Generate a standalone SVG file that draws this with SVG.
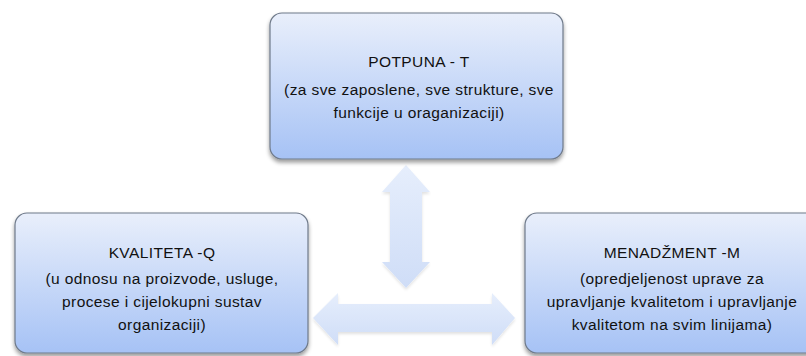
<svg xmlns="http://www.w3.org/2000/svg" width="806" height="356" viewBox="0 0 806 356">
  <defs>
    <linearGradient id="boxGrad" x1="0" y1="0" x2="0" y2="1">
      <stop offset="0" stop-color="#e9effb"/>
      <stop offset="1" stop-color="#a6c2f5"/>
    </linearGradient>
    <linearGradient id="arrGrad" x1="0" y1="0" x2="0" y2="1">
      <stop offset="0" stop-color="#e6eefc"/>
      <stop offset="1" stop-color="#cfddf7"/>
    </linearGradient>
    <filter id="shadow" x="-10%" y="-10%" width="120%" height="130%">
      <feGaussianBlur in="SourceAlpha" stdDeviation="2"/>
      <feOffset dx="0" dy="3" result="b"/>
      <feComponentTransfer><feFuncA type="linear" slope="0.4"/></feComponentTransfer>
      <feMerge><feMergeNode/><feMergeNode in="SourceGraphic"/></feMerge>
    </filter>
    <filter id="ashadow" x="-20%" y="-20%" width="140%" height="140%">
      <feGaussianBlur in="SourceAlpha" stdDeviation="1.5"/>
      <feOffset dx="0" dy="2" result="b"/>
      <feComponentTransfer><feFuncA type="linear" slope="0.12"/></feComponentTransfer>
      <feMerge><feMergeNode/><feMergeNode in="SourceGraphic"/></feMerge>
    </filter>
  </defs>
  <style>
    .box { fill: url(#boxGrad); stroke: #6f7a8a; stroke-width: 1.2; filter: url(#shadow); }
    .arrow { fill: url(#arrGrad); stroke: none; filter: url(#ashadow); }
    text { font-family: "Liberation Sans", Arial, sans-serif; font-size: 15.5px; letter-spacing: 0.4px; fill: #111; text-anchor: middle; }
  </style>
  <rect width="806" height="356" fill="#ffffff"/>

  <g id="connectors">
    <path class="arrow" d="M406,165 L430,192 L422,192 L422,262 L430,262 L406,288 L382,262 L390,262 L390,192 L382,192 Z"/>
    <path class="arrow" d="M313,318 L338,293 L338,304 L492,304 L492,293 L515,318 L492,345 L492,332 L338,332 L338,345 Z"/>
  </g>

  <g id="node-potpuna">
    <rect class="box" x="270" y="13" width="293" height="146" rx="12" ry="12"/>
    <text x="419" y="67">POTPUNA - T</text>
    <text x="419" y="95">(za sve zaposlene, sve strukture, sve</text>
    <text x="419" y="118">funkcije u oraganizaciji)</text>
  </g>

  <g id="node-kvaliteta">
    <rect class="box" x="15" y="213" width="293" height="140" rx="12" ry="12"/>
    <text x="162" y="258">KVALITETA -Q</text>
    <text x="162" y="284">(u odnosu na proizvode, usluge,</text>
    <text x="162" y="307">procese i cijelokupni sustav</text>
    <text x="162" y="330">organizaciji)</text>
  </g>

  <g id="node-menadzment">
    <rect class="box" x="525" y="213" width="294" height="140" rx="12" ry="12"/>
    <text x="672" y="258">MENADŽMENT -M</text>
    <text x="672" y="284">(opredjeljenost uprave za</text>
    <text x="672" y="307">upravljanje kvalitetom i upravljanje</text>
    <text x="672" y="330">kvalitetom na svim linijama)</text>
  </g>
</svg>
